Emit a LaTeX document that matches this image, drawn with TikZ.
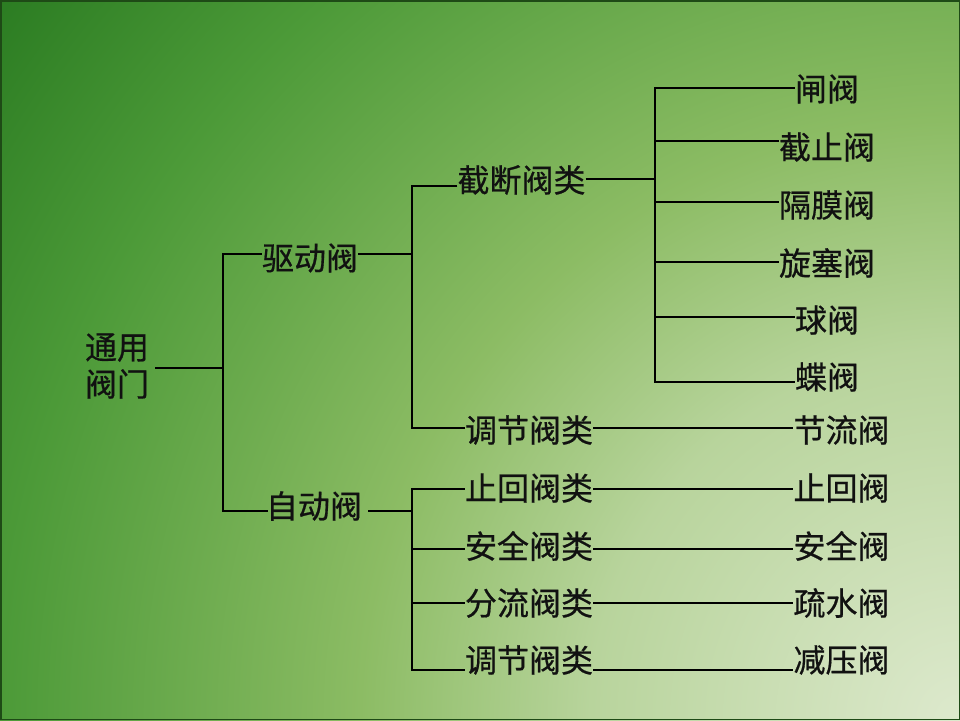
\documentclass[tikz,border=0pt]{standalone}
\usepackage{fontspec}
\newfontfamily\cjk[FakeBold=0.6]{Noto Sans CJK SC}
\definecolor{bgA}{HTML}{DDE9CD}
\definecolor{bgB}{HTML}{B8D49C}
\definecolor{bgC}{HTML}{8CBC64}
\definecolor{bgE}{HTML}{4C9A38}
\definecolor{bgF}{HTML}{2B7C22}
\definecolor{frame}{HTML}{1E4A16}
\definecolor{txt}{HTML}{111111}
\pgfdeclareradialshading{bgshade}{\pgfpoint{0bp}{0bp}}{color(0bp)=(bgA); color(7.7bp)=(bgB); color(12.5bp)=(bgC); color(20bp)=(bgE); color(25bp)=(bgF); color(50bp)=(bgF)}
\tikzset{
  lbl/.style={inner sep=0pt, text=txt, font=\cjk\fontsize{32}{37}\selectfont},
  conn/.style={draw=black, line width=1.1pt},
}
\begin{document}
\begin{tikzpicture}[x=1pt,y=-1pt]
\useasboundingbox (0,0) rectangle (960,720);
\begin{scope}
\clip (0,0) rectangle (960,720);
\shade[shading=bgshade] (960,720) circle (1200pt);
\end{scope}
\draw[frame, line width=1.5pt] (0.75,0.75) rectangle (959.25,719.25);

% nodes
\node[lbl, align=left] (root) at (117,366) {通用\\阀门};
\node[lbl] (qd) at (310,258) {驱动阀};
\node[lbl] (zd) at (314,506) {自动阀};
\node[lbl] (jd) at (521.5,180) {截断阀类};
\node[lbl] (tj1) at (529,430) {调节阀类};
\node[lbl] (zh) at (529,488) {止回阀类};
\node[lbl] (aq) at (529,546) {安全阀类};
\node[lbl] (fl) at (529,603) {分流阀类};
\node[lbl] (tj2) at (529,660) {调节阀类};
\node[lbl] (L1) at (827,89) {闸阀};
\node[lbl] (L2) at (827,147) {截止阀};
\node[lbl] (L3) at (827,205) {隔膜阀};
\node[lbl] (L4) at (827,263) {旋塞阀};
\node[lbl] (L5) at (827,320) {球阀};
\node[lbl] (L6) at (827,377) {蝶阀};
\node[lbl] (R1) at (841.5,430) {节流阀};
\node[lbl] (R2) at (841.5,488) {止回阀};
\node[lbl] (R3) at (841.5,546) {安全阀};
\node[lbl] (R4) at (841.5,603) {疏水阀};
\node[lbl] (R5) at (841.5,660) {减压阀};

% bus x positions
\coordinate (b1) at (223,0);
\coordinate (b2) at (412,0);
\coordinate (b3) at (655,0);

% root level
\coordinate (r0) at ([xshift=6pt,yshift=-2pt]root.east);
\coordinate (q0) at ([yshift=4pt]qd.west);
\coordinate (z0) at ([xshift=2pt,yshift=-5pt]zd.west);
\draw[conn] (r0) -- (b1 |- r0);
\draw[conn] (q0) -| (b1 |- z0) -- (z0);

% driven valves
\coordinate (q1) at ([yshift=4pt]qd.east);
\coordinate (j0) at ([yshift=-6pt]jd.west);
\coordinate (t0) at ([yshift=2pt]tj1.west);
\draw[conn] (q1) -- (b2 |- q1);
\draw[conn] (j0) -| (b2 |- t0) -- (t0);

% automatic valves
\coordinate (z1) at ([xshift=6pt,yshift=-5pt]zd.east);
\coordinate (zh0) at ([yshift=-1pt]zh.west);
\coordinate (aq0) at ([yshift=-3pt]aq.west);
\coordinate (fl0) at (fl.west);
\coordinate (tb0) at ([yshift=-10pt]tj2.west);
\draw[conn] (z1) -- (b2 |- z1);
\draw[conn] (zh0) -| (b2 |- tb0) -- (tb0);
\draw[conn] (b2 |- aq0) -- (aq0);
\draw[conn] (b2 |- fl0) -- (fl0);

% shut-off valves
\coordinate (j1) at ([yshift=1pt]jd.east);
\coordinate (l1) at ([yshift=1pt]L1.west);
\coordinate (l2) at ([yshift=6pt]L2.west);
\coordinate (l3) at ([yshift=3pt]L3.west);
\coordinate (l4) at ([yshift=1pt]L4.west);
\coordinate (l5) at ([yshift=3pt]L5.west);
\coordinate (l6) at ([yshift=-5pt]L6.west);
\draw[conn] (j1) -- (b3 |- j1);
\draw[conn] (l1) -| (b3 |- l6) -- (l6);
\draw[conn] (b3 |- l2) -- (l2);
\draw[conn] (b3 |- l3) -- (l3);
\draw[conn] (b3 |- l4) -- (l4);
\draw[conn] (b3 |- l5) -- (l5);

% right-hand connectors
\draw[conn] ([yshift=2pt]tj1.east) -- ([yshift=2pt]R1.west);
\draw[conn] ([yshift=-1pt]zh.east) -- ([yshift=-1pt]R2.west);
\draw[conn] ([yshift=-3pt]aq.east) -- ([yshift=-3pt]R3.west);
\draw[conn] (fl.east) -- (R4.west);
\draw[conn] ([yshift=-10pt]tj2.east) -- ([yshift=-10pt]R5.west);
\end{tikzpicture}
\end{document}
